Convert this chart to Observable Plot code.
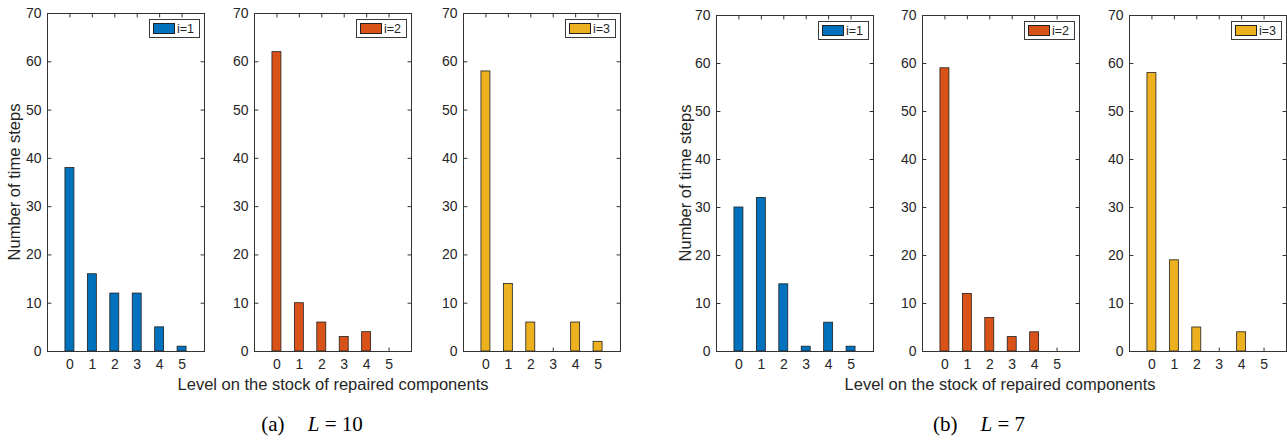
<!DOCTYPE html>
<html><head><meta charset="utf-8">
<script src="https://cdn.jsdelivr.net/npm/d3@7"></script>
<script src="https://cdn.jsdelivr.net/npm/@observablehq/plot@0.6"></script>
<style>
body{margin:0;background:#fff;}
#root{position:relative;width:1287px;height:440px;overflow:hidden;font-family:"Liberation Sans",Arial,Helvetica,sans-serif;color:#262626;}
.panel{position:absolute;}
.panel svg{max-width:none !important;display:block;}
.legend{position:absolute;box-sizing:border-box;border:1px solid #3a3a3a;background:#fff;display:flex;align-items:center;padding:0 3px;font-size:12.5px;height:19px;}
.legend .sw{width:22px;height:11px;box-sizing:border-box;border:1px solid #222;margin-right:2px;}
.ylab{position:absolute;font-size:16.5px;transform:translate(-50%,-50%) rotate(-90deg);white-space:nowrap;}
.xlab{position:absolute;font-size:16.5px;transform:translate(-50%,-50%);white-space:nowrap;}
.cap{position:absolute;font-family:"Liberation Serif","Times New Roman",serif;font-size:21px;color:#000;transform:translate(-50%,-50%);white-space:nowrap;}
.cap .m{margin-left:1.1em;}
</style></head><body><div id="root"></div>
<script>
// ---- data ----
const levels = [0, 1, 2, 3, 4, 5];
const yTicks = [0, 10, 20, 30, 40, 50, 60, 70];
const seriesNames = ["i=1", "i=2", "i=3"];
const seriesColors = ["#0072BD", "#D95319", "#EDB120"];
const L10_i1 = [38, 16, 12, 12, 5, 1];
const L10_i2 = [62, 10, 6, 3, 4, 0];
const L10_i3 = [58, 14, 6, 0, 6, 2];
const L7_i1 = [30, 32, 14, 1, 6, 1];
const L7_i2 = [59, 12, 7, 3, 4, 0];
const L7_i3 = [58, 19, 5, 0, 4, 0];
const yLabel = "Number of time steps";
const xLabel = "Level on the stock of repaired components";
const captions = [["(a)", "L", " = 10"], ["(b)", "L", " = 7"]];

// ---- layout ----
const panels = [
  {values: L10_i1, s: 0, left: 47, top: 13},
  {values: L10_i2, s: 1, left: 254, top: 13},
  {values: L10_i3, s: 2, left: 463, top: 13},
  {values: L7_i1, s: 0, left: 716, top: 15},
  {values: L7_i2, s: 1, left: 922, top: 15},
  {values: L7_i3, s: 2, left: 1129, top: 15}
];
const PW = 157, BOTTOM = 351;
const mL = 40, mR = 8, mT = 10, mB = 30;
const root = document.getElementById("root");

const tickShape = {draw(ctx, l) { ctx.moveTo(0, 0); ctx.lineTo(0, -l); }};
const tickOpts = {length: 3.5, anchor: "start", shape: tickShape, stroke: "#333", strokeWidth: 1};

panels.forEach(p => {
  const data = levels.map((lv, i) => ({level: lv, count: p.values[i]}));
  const H = BOTTOM - p.top;
  const W = PW + mL + mR;
  const chart = Plot.plot({
    width: W, height: H + mT + mB,
    marginLeft: mL, marginRight: mR, marginTop: mT, marginBottom: mB,
    style: {fontFamily: '"Liberation Sans",Arial,Helvetica,sans-serif', fontSize: "14px", color: "#262626", background: "transparent", overflow: "visible"},
    x: {domain: [-1, 6]},
    y: {domain: [0, 70]},
    marks: [
      Plot.vector(levels, {x: d => d, frameAnchor: "bottom", rotate: 0, ...tickOpts}),
      Plot.vector(levels, {x: d => d, frameAnchor: "top", rotate: 180, ...tickOpts}),
      Plot.vector(yTicks, {y: d => d, frameAnchor: "left", rotate: 90, ...tickOpts}),
      Plot.vector(yTicks, {y: d => d, frameAnchor: "right", rotate: -90, ...tickOpts}),
      Plot.rectY(data.filter(d => d.count > 0), {x1: d => d.level - 0.2, x2: d => d.level + 0.2, y1: 0, y2: "count", fill: seriesColors[p.s], stroke: "#1f1f1f", strokeWidth: 0.8}),
      Plot.frame({stroke: "#333", strokeWidth: 1}),
      Plot.axisX({ticks: levels, tickFormat: d3.format("d"), tickSize: 0, tickPadding: 8, label: null, fill: "#262626", fontSize: 14}),
      Plot.axisY({ticks: yTicks, tickFormat: d3.format("d"), tickSize: 0, tickPadding: 6, label: null, fill: "#262626", fontSize: 14})
    ]
  });
  const wrap = document.createElement("div");
  wrap.className = "panel";
  wrap.style.left = (p.left - mL) + "px";
  wrap.style.top = (p.top - mT) + "px";
  wrap.style.width = W + "px";
  wrap.appendChild(chart);
  root.appendChild(wrap);

  const lg = document.createElement("div");
  lg.className = "legend";
  lg.style.left = (p.left + PW - 4 - 51) + "px";
  lg.style.width = "51px";
  lg.style.top = (p.top + 6) + "px";
  lg.innerHTML = `<div class="sw" style="background:${seriesColors[p.s]}"></div><span>${seriesNames[p.s]}</span>`;
  root.appendChild(lg);
});

// axis labels
[[14, 182], [685, 183]].forEach(([x, y]) => {
  const d = document.createElement("div");
  d.className = "ylab"; d.style.left = x + "px"; d.style.top = y + "px";
  d.textContent = yLabel; root.appendChild(d);
});
[[333, 384], [1000, 384]].forEach(([x, y]) => {
  const d = document.createElement("div");
  d.className = "xlab"; d.style.left = x + "px"; d.style.top = y + "px";
  d.textContent = xLabel; root.appendChild(d);
});
[[312, 424], [979, 424]].forEach(([x, y], i) => {
  const d = document.createElement("div");
  d.className = "cap"; d.style.left = x + "px"; d.style.top = y + "px";
  const c = captions[i];
  d.innerHTML = `<span>${c[0]}</span><span class="m"><i>${c[1]}</i>${c[2]}</span>`;
  root.appendChild(d);
});
</script>
</body></html>
